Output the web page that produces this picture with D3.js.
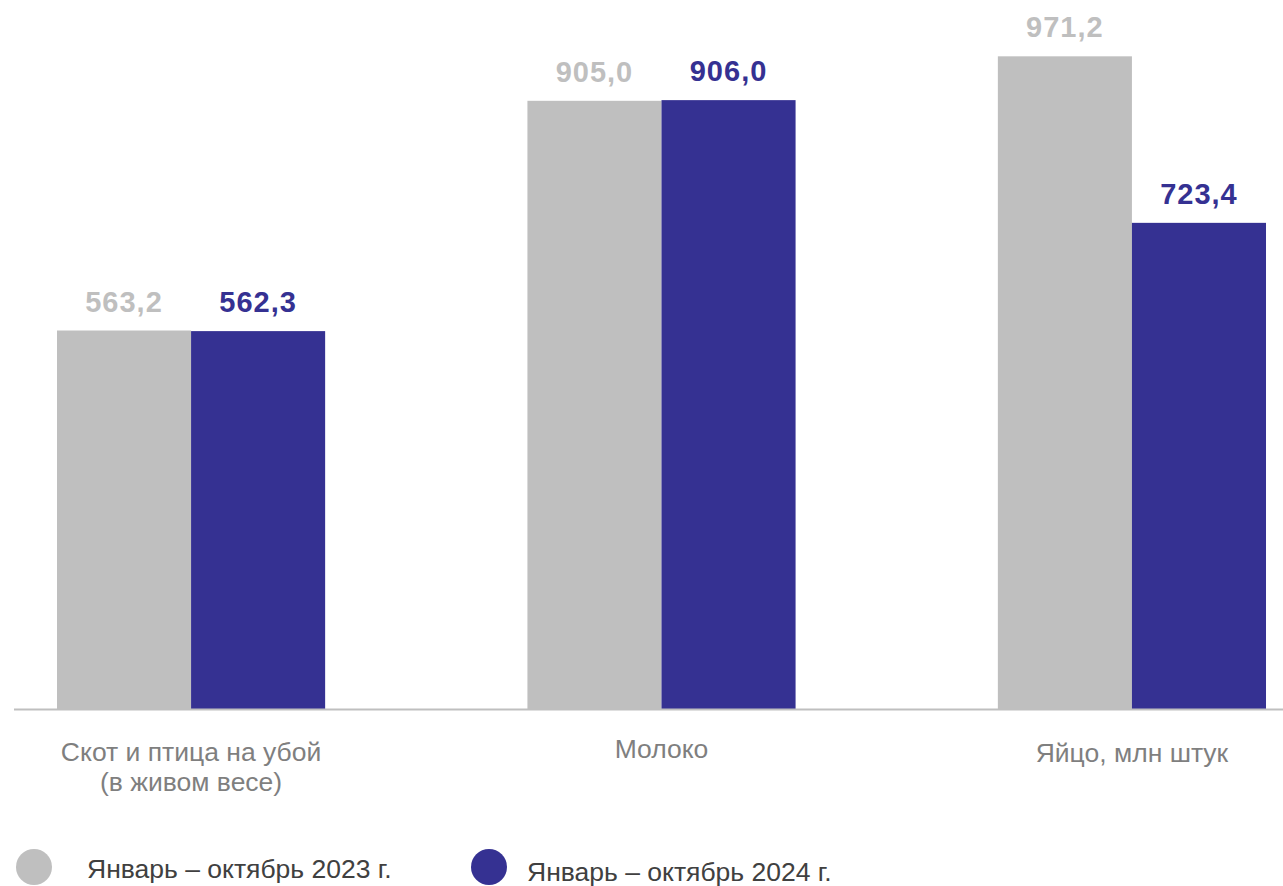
<!DOCTYPE html>
<html>
<head>
<meta charset="utf-8">
<script src="https://cdn.jsdelivr.net/npm/d3@7"></script>
<style>
  body { margin: 0; background: #fff; }
  text { font-family: "Liberation Sans", Arial, sans-serif; }
</style>
</head>
<body>
<div id="chart"></div>
<script>
var categories = [["Скот и птица на убой", "(в живом весе)"], ["Молоко"], ["Яйцо, млн штук"]];
var series = ["Январь – октябрь 2023 г.", "Январь – октябрь 2024 г."];
var values2023 = [563.2, 905.0, 971.2];
var values2024 = [562.3, 906.0, 723.4];
var colors = ["#bfbfbf", "#353192"];

var width = 1283,
    height = 886;

var svg = d3.select("#chart")
  .append("svg")
    .attr("width", width)
    .attr("height", height)

var rows = categories.map(function(c, i) {
  return {cat: i, vals: [values2023[i], values2024[i]]};
});

var x0 = d3.scaleBand()
    .domain(d3.range(categories.length))
    .range([14, 1309])
    .paddingInner(0.43)
    .paddingOuter(0.0914)

var x1 = d3.scaleBand()
    .domain([0, 1])
    .range([0, x0.bandwidth()])

var y = d3.scaleLinear()
    .domain([0, 1055])
    .range([709, 0])

var fmt = function(v) { return d3.format(".1f")(v).replace(".", ","); }

var group = svg.append("g")
  .selectAll("g")
  .data(rows)
  .enter()
  .append("g")
    .attr("transform", function(d){ return "translate(" + x0(d.cat) + ",0)"; })

group.selectAll("rect")
  .data(function(d){ return d.vals.map(function(v, s){ return {s: s, v: v}; }); })
  .enter()
  .append("rect")
    .attr("x", function(d){ return x1(d.s); })
    .attr("y", function(d){ return y(d.v); })
    .attr("width", x1.bandwidth())
    .attr("height", function(d){ return y(0) - y(d.v); })
    .style("fill", function(d){ return colors[d.s]; })

group.selectAll("text.val")
  .data(function(d){ return d.vals.map(function(v, s){ return {s: s, v: v}; }); })
  .enter()
  .append("text")
    .attr("class", "val")
    .attr("x", function(d){ return x1(d.s) + x1.bandwidth() / 2; })
    .attr("y", function(d){ return y(d.v) - 19; })
    .attr("text-anchor", "middle")
    .style("font-size", "29px")
    .style("font-weight", "bold")
    .style("letter-spacing", "1px")
    .style("fill", function(d){ return colors[d.s]; })
    .text(function(d){ return fmt(d.v); })

// baseline
svg.append("line")
    .attr("x1", 14)
    .attr("x2", width)
    .attr("y1", y(0) + 0.5)
    .attr("y2", y(0) + 0.5)
    .attr("stroke", "#bfbfbf")
    .attr("stroke-width", 2)

// category labels
var labelY = [761, 758, 762];
group.append("text")
    .attr("text-anchor", "middle")
    .attr("x", x0.bandwidth() / 2)
    .attr("y", function(d){ return labelY[d.cat]; })
    .style("font-size", "26.5px")
    .style("fill", "#7f7f7f")
  .selectAll("tspan")
  .data(function(d){ return categories[d.cat]; })
  .enter()
  .append("tspan")
    .attr("x", x0.bandwidth() / 2)
    .attr("dy", function(d, i){ return i === 0 ? 0 : 30; })
    .text(function(d){ return d; })

// legend
var legendPos = [{cx: 34, cy: 867, tx: 87, ty: 878}, {cx: 489, cy: 867, tx: 527, ty: 881}];
var legend = svg.append("g")
  .selectAll("g")
  .data(series)
  .enter()
  .append("g")

legend.append("circle")
    .attr("cx", function(d, i){ return legendPos[i].cx; })
    .attr("cy", function(d, i){ return legendPos[i].cy; })
    .attr("r", 18)
    .style("fill", function(d, i){ return colors[i]; })

legend.append("text")
    .attr("x", function(d, i){ return legendPos[i].tx; })
    .attr("y", function(d, i){ return legendPos[i].ty; })
    .style("font-size", "26.5px")
    .style("fill", "#404040")
    .text(function(d){ return d; })
</script>
</body>
</html>
